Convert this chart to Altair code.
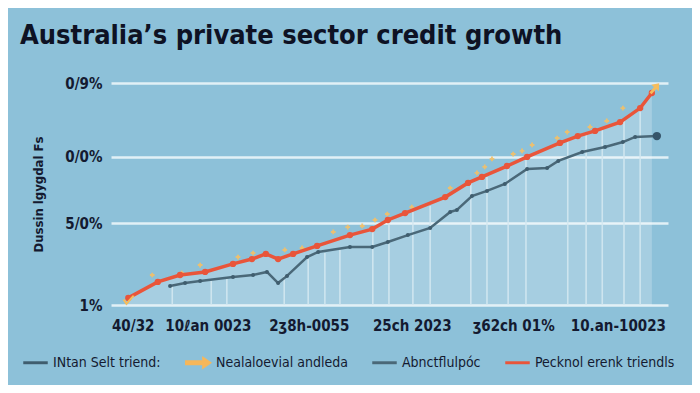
import altair as alt
import pandas as pd

TITLE = "Australia’s private sector credit growth"
Y_TITLE = "Dussin lgygdal Fs"

y_tick_values = [0, 36.9, 66.7, 100]
y_tick_labels = ["1%", "5/0%", "0/0%", "0/9%"]
x_tick_values = [3.9, 17.4, 35.5, 54.0, 72.2, 91.0]
x_tick_labels = ["40/32", "10ℓan 0023", "2ʒ8h-0055", "25ch 2023", "ʒ62ch 01%", "10.an-10023"]

legend_labels = ["INtan Selt triend:", "Nealaloevial andleda", "Abnctflulpóc", "Pecknol erenk triendls"]
legend_colors = ["#3f5d6e", "#f6b75a", "#4a6878", "#e9553a"]

# red trend line
red_t = [3.1, 8.4, 12.4, 16.9, 21.9, 25.3, 27.8, 30.0, 32.7, 37.0, 42.9, 46.9, 49.7, 52.8,
         60.0, 64.1, 66.6, 71.1, 74.7, 80.6, 83.8, 86.9, 91.4, 95.0, 97.1]
red_y = [3.2, 10.4, 13.5, 14.9, 18.5, 20.7, 23.0, 20.7, 23.0, 26.6, 31.5, 34.2, 38.3, 41.4,
         48.6, 55.0, 57.7, 62.6, 66.7, 73.0, 76.1, 78.4, 82.4, 88.7, 95.5]

# grey line
grey_t = [10.6, 13.3, 16.0, 21.9, 25.5, 28.0, 30.0, 31.6, 35.2, 37.2, 42.9, 46.9, 49.7, 53.3,
          57.3, 60.9, 62.1, 64.8, 67.5, 70.7, 74.7, 78.3, 80.3, 84.6, 88.7, 91.9, 94.1, 98.0]
grey_y = [8.6, 9.9, 10.8, 12.6, 13.5, 14.9, 9.9, 13.1, 21.6, 23.9, 26.1, 26.1, 28.4, 31.5,
          34.7, 41.9, 42.8, 49.1, 51.4, 54.5, 61.3, 61.7, 64.9, 68.9, 71.2, 73.4, 75.7, 76.1]

# yellow sparkles
spark_t = [7.4, 12.7, 16.0, 22.8, 25.5, 31.2, 34.3, 39.9, 42.5, 45.1, 47.4, 49.6, 54.0, 60.9,
           65.7, 67.1, 68.4, 72.2, 73.8, 75.6, 80.1, 81.9, 86.0, 89.0, 91.9]
spark_y = [13.5, 14.4, 18.0, 21.6, 23.4, 24.8, 25.7, 32.9, 35.1, 35.6, 38.3, 41.0, 44.1, 52.7,
           59.5, 62.2, 65.8, 68.0, 69.4, 72.1, 75.2, 77.9, 80.2, 82.9, 88.7]

# vertical drop lines
drop_t = [11.0, 18.0, 20.8, 31.1, 35.4, 38.4, 41.1, 47.0, 49.9, 54.2, 57.3, 64.6, 67.5, 71.3,
          74.5, 82.0, 85.3, 88.2, 92.1, 95.0]
drop_y = [8.6, 10.8, 12.2, 13.1, 21.2, 23.4, 24.8, 33.3, 37.4, 41.9, 44.6, 55.4, 57.7, 62.6,
          66.2, 73.9, 76.6, 78.8, 83.3, 88.7]

# start / end markers
start_t, start_y = [3.1], [1.5]
end_t, end_y = [97.6], [97.5]

FONT = "Liberation Sans Narrow, DejaVu Sans Condensed, Roboto Condensed, Roboto, sans-serif"
TEXT = "#141a30"
BG = "#8dc1d9"

red_df = pd.DataFrame({"t": red_t, "y": red_y})
grey_df = pd.DataFrame({"t": grey_t, "y": grey_y})
spark_df = pd.DataFrame({"t": spark_t, "y": spark_y})
drop_df = pd.DataFrame({"t": drop_t, "y": drop_y, "y0": [0] * len(drop_t)})
start_df = pd.DataFrame({"t": start_t, "y": start_y})
end_df = pd.DataFrame({"t": end_t, "y": end_y})
# legend-only records, placed outside the clipped plot domain
leg_df = pd.DataFrame({"t": [-50] * 4, "y": [-50] * 4, "s": legend_labels})

def expr(vals, labels):
    e = "''"
    for v, l in reversed(list(zip(vals, labels))):
        e = f"abs(datum.value - {v}) < 0.5 ? '{l}' : ({e})"
    return e

x_scale = alt.Scale(domain=[0, 100], nice=False, zero=False)
y_scale = alt.Scale(domain=[0, 100], nice=False, zero=False)

x_enc = alt.X("t:Q", scale=x_scale, axis=alt.Axis(
    values=x_tick_values, labelExpr=expr(x_tick_values, x_tick_labels), title=None,
    grid=False, domain=False, ticks=False, labelPadding=13, labelFontSize=15,
    labelFont=FONT, labelFontWeight="bold", labelColor=TEXT, labelFlush=False))
y_enc = alt.Y("y:Q", scale=y_scale, axis=alt.Axis(
    values=y_tick_values, labelExpr=expr(y_tick_values, y_tick_labels), title=Y_TITLE,
    grid=True, gridColor="#e2f0f6", gridWidth=2.5, domain=False, ticks=False,
    labelPadding=9, labelFontSize=15, labelFont=FONT, labelFontWeight="bold",
    labelColor=TEXT, titleFont=FONT, titleFontSize=13, titleFontWeight="bold",
    titleColor=TEXT, titleX=-73, titleY=111, titleBaseline="middle"))

CHECK = "M-0.9,-0.3L-0.3,0.6L1,-0.9L0.7,-1L-0.3,0.1L-0.5,-0.4Z"
UPARROW = "M-0.2,0.9L0.2,0.9L0.2,-0.1L0.7,-0.1L0,-1L-0.7,-0.1L-0.2,-0.1Z"
LINE = "M-1,-0.12L1,-0.12L1,0.12L-1,0.12Z"
ARROW = "M-1.1,-0.2L0.3,-0.2L0.3,-0.55L1.1,0L0.3,0.55L0.3,0.2L-1.1,0.2Z"

area = alt.Chart(red_df).mark_area(color="#ffffff", opacity=0.22).encode(x=x_enc, y=y_enc)
drops = alt.Chart(drop_df).mark_rule(color="#d3e8f1", strokeWidth=1.6, opacity=0.9).encode(
    x="t:Q", y="y:Q", y2="y0:Q")
sparks = alt.Chart(spark_df).mark_point(shape="cross", filled=True, color="#f4c066",
                                        size=22, opacity=0.9).encode(x="t:Q", y="y:Q")
grey_line = alt.Chart(grey_df).mark_line(color="#4a6878", strokeWidth=2.5).encode(x="t:Q", y="y:Q")
grey_pts = alt.Chart(grey_df).mark_circle(color="#3f5d6e", size=16, opacity=1).encode(x="t:Q", y="y:Q")
grey_end = alt.Chart(grey_df.tail(1)).mark_circle(color="#36556a", size=70, opacity=1).encode(x="t:Q", y="y:Q")
red_line = alt.Chart(red_df).mark_line(color="#e9553a", strokeWidth=3.5).encode(x="t:Q", y="y:Q")
red_pts = alt.Chart(red_df).mark_circle(color="#e9553a", size=40, opacity=1).encode(x="t:Q", y="y:Q")
start_mk = alt.Chart(start_df).mark_point(shape=CHECK, filled=True, color="#f6bd5c", size=160,
                                          opacity=1).encode(x="t:Q", y="y:Q")
end_mk = alt.Chart(end_df).mark_point(shape=UPARROW, filled=True, color="#f6bd5c", size=200,
                                      opacity=1, angle=40).encode(x="t:Q", y="y:Q")

leg = alt.Legend(title=None, orient="none", legendX=-88, legendY=267, direction="horizontal",
                 labelFont=FONT, labelFontSize=14, labelColor=TEXT, symbolSize=600,
                 columnPadding=24, labelOffset=5, symbolStrokeWidth=0, symbolOpacity=1)
legend_layer = alt.Chart(leg_df).mark_point(filled=True, opacity=1, clip=True).encode(
    x="t:Q", y="y:Q",
    color=alt.Color("s:N", scale=alt.Scale(domain=legend_labels, range=legend_colors), legend=leg),
    shape=alt.Shape("s:N", scale=alt.Scale(domain=legend_labels, range=[LINE, ARROW, LINE, LINE]), legend=leg))

chart = alt.layer(area, drops, sparks, grey_line, grey_pts, grey_end, red_line, red_pts,
                  start_mk, end_mk, legend_layer).properties(
    width=557, height=222,
    autosize=alt.AutoSizeParams(type="none"),
    padding={"left": 103, "top": 75, "right": 24, "bottom": 80},
    background=BG,
    title=alt.TitleParams(TITLE, anchor="start", frame="group", dx=-91, offset=26,
                          fontSize=27, font=FONT, fontWeight="bold", color="#0e1224"),
).configure_view(stroke=None)

chart.save("out.html", embed_options={"renderer": "svg", "actions": False})
